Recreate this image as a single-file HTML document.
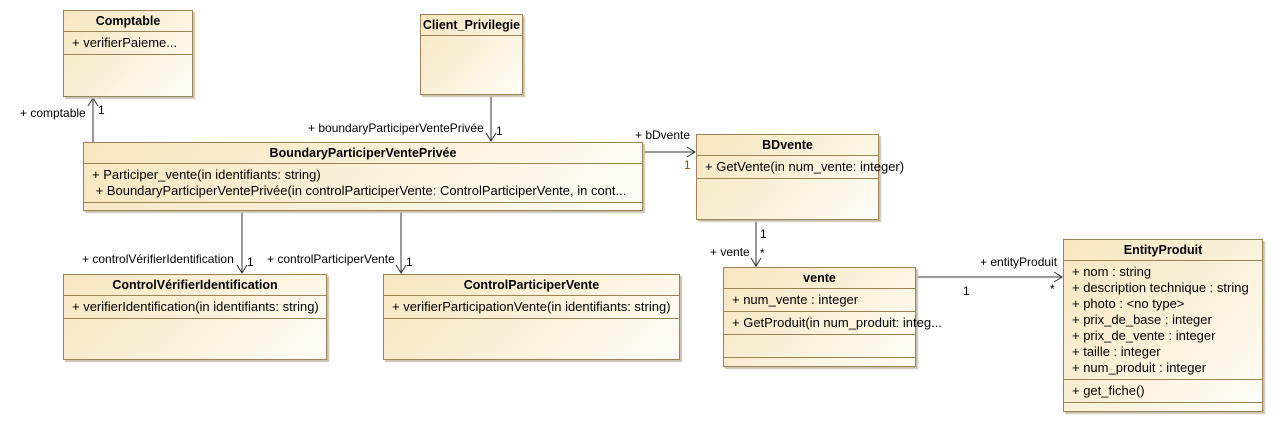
<!DOCTYPE html>
<html><head><meta charset="utf-8"><style>
body{margin:0;width:1274px;height:423px;background:#fff;position:relative;overflow:hidden;font-family:"Liberation Sans",sans-serif;font-size:13px;color:#000}
.b{position:absolute;border:1px solid #9a8455;background:linear-gradient(135deg,#f7e6bf 0%,#fbf2dc 55%,#fffdf8 100%);box-shadow:2px 2px 1px #c9c2b0;box-sizing:border-box}
.h{font-weight:bold;font-size:12.5px;text-align:center;border-bottom:1px solid #9a8455;box-sizing:border-box;line-height:20px;height:21px;white-space:nowrap}
.s{border-bottom:1px solid #9a8455;padding:3px 8px;line-height:16px;white-space:nowrap}
.l{position:absolute;white-space:nowrap;font-size:12px}
.o{color:#8a5a00}
svg{position:absolute;left:0;top:0}
</style></head><body>
<svg width="1274" height="423">
<g stroke="#333" stroke-width="1" fill="none">
<line x1="93" y1="142" x2="93" y2="98"/><polyline points="88,106 93,98 98,106"/>
<line x1="491" y1="94" x2="491" y2="141"/><polyline points="486,133 491,141 496,133"/>
<line x1="642" y1="152" x2="695" y2="152"/><polyline points="687,147 695,152 687,157"/>
<line x1="242" y1="210" x2="242" y2="273"/><polyline points="237,265 242,273 247,265"/>
<line x1="401" y1="210" x2="401" y2="273"/><polyline points="396,265 401,273 406,265"/>
<line x1="756" y1="219" x2="756" y2="266"/><polyline points="751,258 756,266 761,258"/>
<line x1="915" y1="277" x2="1062" y2="277"/><polyline points="1054,272 1062,277 1054,282"/>
</g></svg>
<div class="b" style="left:63px;top:10px;width:130px;height:87px"><div class="h">Comptable</div><div class="s" style="height:16px">+ verifierPaieme...</div></div>
<div class="b" style="left:420px;top:14px;width:103px;height:81px"><div class="h">Client_Privilegie</div></div>
<div class="b" style="left:83px;top:142px;width:560px;height:69px"><div class="h">BoundaryParticiperVentePrivée</div><div class="s" style="padding-top:3px;line-height:16px">+ Participer_vente(in identifiants: string)<br>&nbsp;+ BoundaryParticiperVentePrivée(in controlParticiperVente: ControlParticiperVente, in cont...</div></div>
<div class="b" style="left:696px;top:134px;width:183px;height:86px"><div class="h">BDvente</div><div class="s">+ GetVente(in num_vente: integer)</div></div>
<div class="b" style="left:63px;top:274px;width:264px;height:86px"><div class="h">ControlVérifierIdentification</div><div class="s">+ verifierIdentification(in identifiants: string)</div></div>
<div class="b" style="left:383px;top:274px;width:297px;height:86px"><div class="h">ControlParticiperVente</div><div class="s">+ verifierParticipationVente(in identifiants: string)</div></div>
<div class="b" style="left:723px;top:267px;width:193px;height:100px"><div class="h">vente</div><div class="s">+ num_vente : integer</div><div class="s">+ GetProduit(in num_produit: integ...</div><div class="s" style="height:16px"></div></div>
<div class="b" style="left:1063px;top:239px;width:200px;height:173px"><div class="h">EntityProduit</div><div class="s" style="line-height:16px">+ nom : string<br>+ description technique : string<br>+ photo : &lt;no type&gt;<br>+ prix_de_base : integer<br>+ prix_de_vente : integer<br>+ taille : integer<br>+ num_produit : integer</div><div class="s">+ get_fiche()</div></div>
<div class="l" style="left:20px;top:106px">+ comptable</div><div class="l" style="left:98px;top:103px">1</div>
<div class="l" style="left:308px;top:121px">+ boundaryParticiperVentePrivée</div><div class="l" style="left:496px;top:124px">1</div>
<div class="l" style="left:635px;top:128px">+ bDvente</div><div class="l o" style="left:684px;top:158px">1</div>
<div class="l" style="left:82px;top:252px">+ controlVérifierIdentification</div><div class="l" style="left:247px;top:255px">1</div>
<div class="l" style="left:267px;top:252px">+ controlParticiperVente</div><div class="l" style="left:406px;top:255px">1</div>
<div class="l" style="left:760px;top:227px">1</div>
<div class="l" style="left:710px;top:245px">+ vente</div><div class="l" style="left:760px;top:246px">*</div>
<div class="l" style="left:980px;top:255px">+ entityProduit</div>
<div class="l" style="left:963px;top:284px">1</div><div class="l" style="left:1050px;top:282px">*</div>
</body></html>
